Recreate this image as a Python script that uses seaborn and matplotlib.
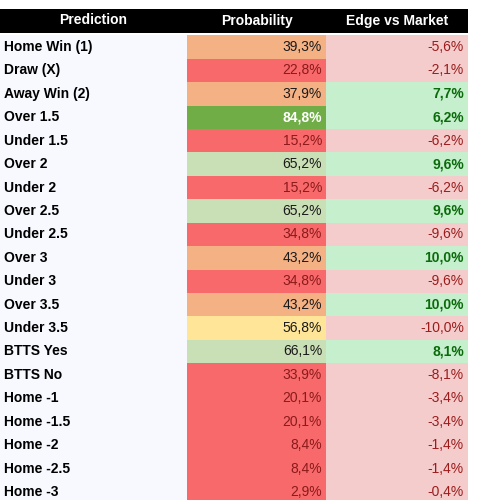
import matplotlib
matplotlib.use("Agg")
import matplotlib.pyplot as plt
import seaborn as sns

sns.set_theme(style="white")
plt.rcParams['font.family'] = ['Liberation Sans', 'DejaVu Sans']

headers = ["Prediction", "Probability", "Edge vs Market"]
predictions = ["Home Win (1)", "Draw (X)", "Away Win (2)", "Over 1.5", "Under 1.5",
               "Over 2", "Under 2", "Over 2.5", "Under 2.5", "Over 3", "Under 3",
               "Over 3.5", "Under 3.5", "BTTS Yes", "BTTS No", "Home -1",
               "Home -1.5", "Home -2", "Home -2.5", "Home -3"]
probability = [39.3, 22.8, 37.9, 84.8, 15.2, 65.2, 15.2, 65.2, 34.8, 43.2,
               34.8, 43.2, 56.8, 66.1, 33.9, 20.1, 20.1, 8.4, 8.4, 2.9]
edge = [-5.6, -2.1, 7.7, 6.2, -6.2, 9.6, -6.2, 9.6, -9.6, 10.0,
        -9.6, 10.0, -10.0, 8.1, -8.1, -3.4, -3.4, -1.4, -1.4, -0.4]


def prob_style(p):
    if p >= 80:
        return "#70ad47", "white", "bold"
    if p >= 60:
        return "#c9dfb5", "#1a1a1a", "normal"
    if p >= 50:
        return "#ffe597", "#1a1a1a", "normal"
    if p >= 35:
        return "#f4b183", "#1a1a1a", "normal"
    return "#f8696b", "#8b1a1a", "normal"


def fmt(v):
    return f"{v:.1f}%".replace(".", ",")


fig = plt.figure(figsize=(4.84, 5.0), dpi=100)
ax = fig.add_axes([0, 0, 1, 1])
ax.set_xlim(0, 484)
ax.set_ylim(500, 0)
ax.axis("off")

col_x = [0, 187, 326, 468]
head_top, head_h = 8.5, 24
row_top0, row_h = 35.3, 23.42

cell = dict(align="edge", linewidth=0)

# header
ax.bar(col_x[0], head_h, width=col_x[3], bottom=head_top, color="black", **cell)
for j, h in enumerate(headers):
    ax.text((col_x[j] + col_x[j + 1]) / 2, head_top + head_h / 2, h, color="white",
            fontsize=10, fontweight="bold", ha="center", va="center")

for i, (name, p, e) in enumerate(zip(predictions, probability, edge)):
    top = row_top0 + i * row_h
    cy = top + row_h / 2
    ax.bar(col_x[0], row_h + 0.5, width=col_x[1] - col_x[0], bottom=top,
           color="#f8f9fe", **cell)
    pc, ptc, pw = prob_style(p)
    ax.bar(col_x[1], row_h + 0.5, width=col_x[2] - col_x[1], bottom=top,
           color=pc, **cell)
    if e > 0:
        ec, etc, ew = "#c6efce", "#0b6b0b", "bold"
    else:
        ec, etc, ew = "#f4cccc", "#9c1c1c", "normal"
    ax.bar(col_x[2], row_h + 0.5, width=col_x[3] - col_x[2], bottom=top,
           color=ec, **cell)
    ax.text(col_x[0] + 4, cy, name, fontsize=10, fontweight="bold", color="black",
            ha="left", va="center")
    ax.text(col_x[2] - 4, cy, fmt(p), fontsize=10, fontweight=pw, color=ptc,
            ha="right", va="center")
    ax.text(col_x[3] - 4, cy, fmt(e), fontsize=10, fontweight=ew, color=etc,
            ha="right", va="center")

fig.savefig("out.png", dpi=100)
